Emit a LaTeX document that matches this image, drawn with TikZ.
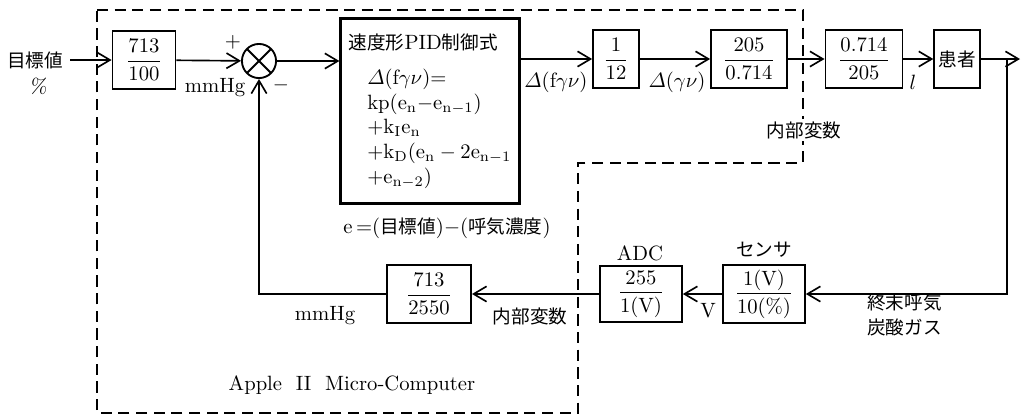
\documentclass[tikz,border=0pt]{standalone}
\usepackage{amsmath}
\usepackage{fontspec}
\newfontfamily\jpfont[Scale=0.9]{Noto Sans CJK JP}
\usetikzlibrary{arrows.meta}

\begin{document}
\begin{tikzpicture}[x=0.017cm,y=-0.017cm,
  blk/.style={draw,line width=0.9pt,minimum height=1cm,inner sep=2pt},
  sumnode/.style={draw,circle,line width=0.9pt,minimum size=0.58cm,inner sep=0pt,
    path picture={\draw[line width=0.9pt]
      (path picture bounding box.north west) -- (path picture bounding box.south east)
      (path picture bounding box.south west) -- (path picture bounding box.north east);}},
  sig/.style={line width=0.8pt,-{Straight Barb[length=2.2mm,width=2.6mm]}},
  mcbound/.style={line width=1.2pt,dash pattern=on 1.9mm off 1.1mm}]
  \useasboundingbox (0,0) rectangle (1023,418);

  \draw[mcbound] (97,10) -- (803,10) -- (803,163) -- (578,163) --
    (578,413) -- (97,413) -- cycle;

  \node (tgt) at (35,60) {\jpfont 目標値};
  \node (pct) at (38,86) {\textsl{\%}};
  \node[blk,minimum width=1.07cm] (k1) at (144,60) {$\dfrac{713}{100}$};
  \node[sumnode] (sum) at (259,61) {};
  \node[blk,line width=1.4pt,minimum width=3.03cm,minimum height=3.13cm,align=left]
    (pid) at (430,111)
    {{\jpfont 速度形}PID{\jpfont 制御式}\\[5pt]
     \hspace*{0.9em}$\varDelta$(f$\gamma\nu$)$=$\\
     \hspace*{0.9em}kp(e$_\mathrm{n}-$e$_{\mathrm{n}-1}$)\\
     \hspace*{0.9em}$+$k$_\mathrm{I}$e$_\mathrm{n}$\\
     \hspace*{0.9em}$+$k$_\mathrm{D}$(e$_\mathrm{n}-2$e$_{\mathrm{n}-1}$\\
     \hspace*{0.9em}$+$e$_{\mathrm{n}-2}$)};
  \node[blk,minimum width=0.78cm] (k2) at (616,59) {$\dfrac{1}{12}$};
  \node[blk,minimum width=1.29cm] (k3) at (749,59) {$\dfrac{205}{0.714}$};
  \node[blk,minimum width=1.31cm] (k4) at (864,59) {$\dfrac{0.714}{205}$};
  \node[blk,minimum width=0.77cm] (pat) at (957,59) {\jpfont 患者};
  \coordinate (out) at (1020,59);
  \coordinate (br) at (1007,59);

  \node[blk,minimum width=1.39cm] (sens) at (764,294) {$\dfrac{1(\mathrm{V})}{10(\%)}$};
  \node[blk,minimum width=1.39cm,minimum height=0.95cm] (adc) at (641,294)
    {$\dfrac{255}{1(\mathrm{V})}$};
  \node[blk,minimum width=1.43cm] (k5) at (429,294) {$\dfrac{713}{2550}$};

  \draw[sig] (tgt) -- (k1);
  \draw[sig] (k1) -- (sum);
  \draw[sig] (sum) -- (pid.west |- sum);
  \draw[sig] (pid.east |- k2) -- (k2);
  \draw[sig] (k2) -- (k3);
  \draw[sig] (k3) -- (k4);
  \draw[sig] (k4) -- (pat);
  \draw[sig] (pat) -- (out);
  \draw[sig] (br) |- (sens);
  \draw[sig] (sens) -- (adc);
  \draw[sig] (adc) -- (k5);
  \draw[sig] (k5) -| (sum);

  \node (plus) at (233,42) {$+$};
  \node (minus) at (281,85) {$-$};
  \node (mmhg1) at (215,88) {mmHg};
  \node (dfgn) at (556,82) {$\varDelta$(f$\gamma\nu$)};
  \node (dgn) at (677,82) {$\varDelta$($\gamma\nu$)};
  \node (ell) at (913,82) {$l$};
  \node[fill=white,inner sep=1pt] (var1) at (804,130) {\jpfont 内部変数};
  \node (err) at (447,228) {e\,$=$({\jpfont 目標値})$-$({\jpfont 呼気濃度})};
  \node (adclbl) at (640,253) {ADC};
  \node (senslbl) at (764,250) {\jpfont センサ};
  \node (volt) at (708,311) {V};
  \node[align=left,anchor=west] (gas) at (860,315) {\jpfont 終末呼気\\ \jpfont 炭酸ガス};
  \node (var2) at (530,316) {\jpfont 内部変数};
  \node (mmhg2) at (325,316) {mmHg};
  \node (apple) at (352,385) {Apple\ \ II\ \ Micro-Computer};
\end{tikzpicture}
\end{document}
